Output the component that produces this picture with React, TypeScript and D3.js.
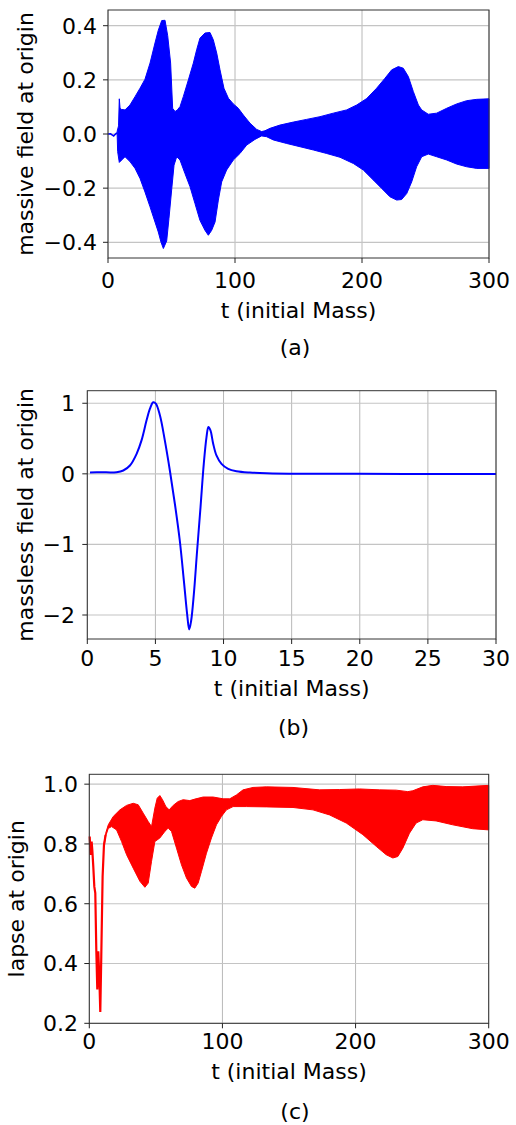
import { useEffect, useRef } from 'react';
import * as d3 from 'd3';

type Pt = [number, number];

// ---- panel (a): massive field at origin (envelope of the fast oscillation)
const massiveTicksX = [0, 100, 200, 300];
const massiveTicksY = [-0.4, -0.2, 0, 0.2, 0.4];
const massiveStart: Pt[] = [[0, 0], [2, 0.001], [3.5, -0.004], [4.5, -0.007], [5.5, -0.002], [6.5, 0.002], [7.2, 0.004]];
const massiveUpper: Pt[] = [
  [7.2, 0.01], [8.3, 0.03], [8.9, 0.13], [9.5, 0.095], [10.5, 0.091], [13.4, 0.089], [17.3, 0.107], [21.3, 0.138],
  [25.2, 0.169], [29.1, 0.202], [33.1, 0.262], [37, 0.336], [39.6, 0.383], [42.3, 0.419], [44.9, 0.42],
  [47, 0.363], [49.3, 0.262], [50.9, 0.095], [52.8, 0.083], [54.6, 0.089], [56.7, 0.101], [59.3, 0.138],
  [63.3, 0.2], [67.2, 0.262], [69.8, 0.311], [72.4, 0.354], [76.4, 0.373], [80.3, 0.375], [82.9, 0.348],
  [85.6, 0.299], [88.2, 0.237], [91.3, 0.169], [94.8, 0.132], [98.7, 0.111], [102.6, 0.095], [106.6, 0.07],
  [111.8, 0.04], [117.1, 0.017], [121, 0.009], [123.6, 0.012], [127.6, 0.021], [135.4, 0.033], [145.9, 0.044],
  [156.4, 0.054], [166.9, 0.064], [177.4, 0.077], [187.9, 0.089], [195.8, 0.107], [203.7, 0.131], [211.5, 0.169],
  [218.1, 0.206], [223.4, 0.237], [228.6, 0.249], [232.5, 0.243], [236.5, 0.212], [240.4, 0.157], [244.4, 0.107],
  [247, 0.089], [252.2, 0.073], [258.8, 0.077], [266.7, 0.095], [274.5, 0.111], [282.4, 0.123], [290.3, 0.128],
  [300, 0.13],
];
const massiveLower: Pt[] = [
  [7.2, 0], [7.6, -0.065], [8.9, -0.105], [10.8, -0.096], [13.4, -0.084], [17.3, -0.102], [21.3, -0.127],
  [25.2, -0.164], [29.1, -0.214], [33.1, -0.269], [37, -0.325], [39.6, -0.362], [41.7, -0.399], [43.6, -0.423],
  [46.2, -0.395], [48, -0.312], [50.1, -0.207], [52, -0.115], [54.1, -0.084], [56.7, -0.096], [60.6, -0.146],
  [64.6, -0.195], [68.5, -0.257], [72.4, -0.319], [76.4, -0.356], [79, -0.374], [81.6, -0.356], [84.3, -0.325],
  [86.9, -0.244], [89.5, -0.177], [93.4, -0.133], [98.7, -0.096], [103.9, -0.072], [109.2, -0.041],
  [115.7, -0.02], [121, -0.007], [124.9, -0.01], [130.2, -0.022], [140.7, -0.035], [151.2, -0.047],
  [161.7, -0.059], [172.2, -0.072], [182.7, -0.086], [193.2, -0.109], [201, -0.133], [208.9, -0.17],
  [215.5, -0.201], [222, -0.232], [227.3, -0.244], [231.2, -0.242], [235.2, -0.22], [239.1, -0.177],
  [243, -0.121], [247, -0.084], [252.2, -0.074], [258.8, -0.084], [266.7, -0.096], [274.5, -0.111],
  [282.4, -0.121], [290.3, -0.127], [300, -0.127],
];

// ---- panel (b): massless field at origin
const masslessTicksX = [0, 5, 10, 15, 20, 25, 30];
const masslessTicksY = [-2, -1, 0, 1];
const massless: Pt[] = [
  [0.2, 0.02], [1, 0.022], [2.15, 0.024], [2.64, 0.047], [3.13, 0.118], [3.62, 0.284], [3.98, 0.474],
  [4.35, 0.758], [4.6, 0.924], [4.84, 1.014], [5.03, 0.995], [5.33, 0.829], [5.69, 0.474], [6.06, 0.047],
  [6.43, -0.427], [6.79, -0.948], [7.09, -1.517], [7.33, -1.99], [7.48, -2.204], [7.62, -2.085],
  [7.82, -1.706], [8.06, -1.09], [8.31, -0.474], [8.55, 0.142], [8.75, 0.521], [8.89, 0.664], [9.04, 0.616],
  [9.24, 0.427], [9.48, 0.261], [9.85, 0.142], [10.34, 0.071], [10.95, 0.038], [11.93, 0.019], [13.15, 0.009],
  [15.6, 0.002], [20, 0], [25, -0.002], [30, -0.003],
];

// ---- panel (c): lapse at origin
const lapseTicksX = [0, 100, 200, 300];
const lapseTicksY = [0.2, 0.4, 0.6, 0.8, 1.0];
const lapseStart: Pt[] = [
  [0.3, 0.825], [1, 0.763], [1.75, 0.808], [2.25, 0.78], [3, 0.724], [3.75, 0.658], [4.5, 0.636],
  [5.25, 0.447], [6, 0.313], [6.75, 0.441], [7.5, 0.358], [8.25, 0.238], [9, 0.424], [10, 0.691],
  [11, 0.795], [12.25, 0.83],
];
const lapseUpper: Pt[] = [
  [11, 0.8], [12.25, 0.835], [14.25, 0.864], [18, 0.892], [23, 0.914], [28, 0.929], [33, 0.936],
  [36.75, 0.931], [40.5, 0.903], [44.25, 0.875], [46.75, 0.858], [49.25, 0.92], [51, 0.953], [53, 0.962],
  [55, 0.948], [57.5, 0.925], [60, 0.914], [63, 0.929], [66.75, 0.942], [70.5, 0.948], [75.5, 0.945],
  [79.25, 0.95], [85.5, 0.957], [93, 0.957], [100.5, 0.951], [105.5, 0.951], [110.5, 0.964], [115.5, 0.981],
  [123, 0.989], [133, 0.991], [153, 0.989], [173, 0.981], [188, 0.982], [203, 0.984], [218, 0.981],
  [230.5, 0.98], [239.25, 0.975], [243, 0.978], [250.5, 0.991], [258, 0.996], [268, 0.992], [280.5, 0.991],
  [300, 0.996],
];
const lapseLower: Pt[] = [
  [11, 0.79], [12.25, 0.825], [14.25, 0.852], [16.75, 0.858], [20.5, 0.847], [24.25, 0.808], [28, 0.764],
  [33, 0.719], [38, 0.675], [41.75, 0.655], [44.25, 0.669], [46.75, 0.742], [49.25, 0.808], [53, 0.82],
  [56.75, 0.842], [59.25, 0.853], [61.75, 0.842], [65.5, 0.786], [69.25, 0.73], [73, 0.686], [76.75, 0.658],
  [79.25, 0.652], [81.75, 0.669], [84.25, 0.708], [88, 0.769], [91.75, 0.82], [95.5, 0.864], [99.25, 0.892],
  [103, 0.914], [108, 0.925], [118, 0.925], [133, 0.924], [153, 0.922], [168, 0.914], [180.5, 0.897],
  [193, 0.87], [205.5, 0.831], [215.5, 0.792], [223, 0.764], [228, 0.753], [231.75, 0.758], [235.5, 0.786],
  [240.5, 0.836], [245.5, 0.87], [250.5, 0.881], [260.5, 0.877], [273, 0.864], [288, 0.851], [300, 0.847],
];

const FONT = "'DejaVu Sans', Verdana, sans-serif";
const FS = 22;
const minus = (s: string) => s.replace('-', '\u2212');

interface PanelCfg {
  left: number; right: number; top: number; bottom: number;
  xDomain: [number, number]; yDomain: [number, number];
  xTicks: number[]; yTicks: number[];
  yFmt: (v: number) => string;
  ylabel: string; ylabelX: number;
  yTickRight: number; xTickBase: number; xlabelBase: number;
  caption: string; captionX: number; captionBase: number;
}

function drawPanel(svg: d3.Selection<SVGSVGElement, unknown, null, undefined>, c: PanelCfg) {
  const x = d3.scaleLinear().domain(c.xDomain).range([c.left, c.right]);
  const y = d3.scaleLinear().domain(c.yDomain).range([c.bottom, c.top]);
  const g = svg.append('g');

  // grid
  c.xTicks.forEach(t => {
    g.append('line').attr('x1', x(t)).attr('x2', x(t)).attr('y1', c.top).attr('y2', c.bottom)
      .attr('stroke', '#b8b8b8').attr('stroke-width', 1);
  });
  c.yTicks.forEach(t => {
    g.append('line').attr('x1', c.left).attr('x2', c.right).attr('y1', y(t)).attr('y2', y(t))
      .attr('stroke', '#c4c4c4').attr('stroke-width', 1.2);
  });

  const data = g.append('g');

  // spines + ticks
  g.append('rect').attr('x', c.left).attr('y', c.top).attr('width', c.right - c.left).attr('height', c.bottom - c.top)
    .attr('fill', 'none').attr('stroke', '#333').attr('stroke-width', 1);
  c.xTicks.forEach(t => {
    g.append('line').attr('x1', x(t)).attr('x2', x(t)).attr('y1', c.bottom).attr('y2', c.bottom + 5)
      .attr('stroke', '#222').attr('stroke-width', 1);
    g.append('text').attr('x', x(t)).attr('y', c.xTickBase).attr('text-anchor', 'middle')
      .style('font-family', FONT).style('font-size', `${FS}px`).attr('fill', '#000').text(String(t));
  });
  c.yTicks.forEach(t => {
    g.append('line').attr('x1', c.left - 5).attr('x2', c.left).attr('y1', y(t)).attr('y2', y(t))
      .attr('stroke', '#222').attr('stroke-width', 1);
    g.append('text').attr('x', c.yTickRight).attr('y', y(t)).attr('dy', '0.36em').attr('text-anchor', 'end')
      .style('font-family', FONT).style('font-size', `${FS}px`).attr('fill', '#000').text(minus(c.yFmt(t)));
  });
  g.append('text').attr('x', (c.left + c.right) / 2).attr('y', c.xlabelBase).attr('text-anchor', 'middle')
    .style('font-family', FONT).style('font-size', `${FS}px`).attr('fill', '#000').text('t (initial Mass)');
  g.append('text').attr('transform', `translate(${c.ylabelX},${(c.top + c.bottom) / 2}) rotate(-90)`)
    .attr('text-anchor', 'middle')
    .style('font-family', FONT).style('font-size', `${FS}px`).attr('fill', '#000').text(c.ylabel);
  g.append('text').attr('x', c.captionX).attr('y', c.captionBase).attr('text-anchor', 'middle')
    .style('font-family', FONT).style('font-size', `${FS}px`).attr('fill', '#000').text(c.caption);

  return { x, y, data };
}

export default function App() {
  const svgRef = useRef<SVGSVGElement | null>(null);

  useEffect(() => {
    const svg = d3.select(svgRef.current!);
    svg.selectAll('*').remove();

    // (a)
    const a = drawPanel(svg, {
      left: 108, right: 489, top: 10, bottom: 258,
      xDomain: [0, 300], yDomain: [-0.458, 0.458],
      xTicks: massiveTicksX, yTicks: massiveTicksY, yFmt: d3.format('.1f'),
      ylabel: 'massive field at origin', ylabelX: 32.5,
      yTickRight: 97, xTickBase: 288, xlabelBase: 317.5,
      caption: '(a)', captionX: 295, captionBase: 355,
    });
    const lineA = d3.line<Pt>().x(d => a.x(d[0])).y(d => a.y(d[1]));
    a.data.append('path').attr('d', lineA(massiveStart)).attr('fill', 'none').attr('stroke', '#0000ff').attr('stroke-width', 1.6);
    a.data.append('path').attr('d', lineA([...massiveUpper, ...massiveLower.slice().reverse()]) + 'Z')
      .attr('fill', '#0000ff').attr('stroke', '#0000ff').attr('stroke-width', 1);

    // (b)
    const b = drawPanel(svg, {
      left: 87.3, right: 496, top: 390.7, bottom: 639,
      xDomain: [0, 30], yDomain: [-2.34, 1.178],
      xTicks: masslessTicksX, yTicks: masslessTicksY, yFmt: d3.format('d'),
      ylabel: 'massless field at origin', ylabelX: 32.5,
      yTickRight: 75, xTickBase: 666, xlabelBase: 695.5,
      caption: '(b)', captionX: 293.5, captionBase: 735,
    });
    const lineB = d3.line<Pt>().x(d => b.x(d[0])).y(d => b.y(d[1])).curve(d3.curveCatmullRom.alpha(0.5));
    b.data.append('path').attr('d', lineB(massless)).attr('fill', 'none').attr('stroke', '#0000ff').attr('stroke-width', 2);

    // (c)
    const c = drawPanel(svg, {
      left: 89.3, right: 488.7, top: 774.3, bottom: 1023.3,
      xDomain: [0, 300], yDomain: [0.2, 1.033],
      xTicks: lapseTicksX, yTicks: lapseTicksY, yFmt: d3.format('.1f'),
      ylabel: 'lapse at origin', ylabelX: 24,
      yTickRight: 78, xTickBase: 1049, xlabelBase: 1079,
      caption: '(c)', captionX: 295, captionBase: 1119,
    });
    const lineC = d3.line<Pt>().x(d => c.x(d[0])).y(d => c.y(d[1]));
    c.data.append('path').attr('d', lineC(lapseStart)).attr('fill', 'none').attr('stroke', '#ff0000').attr('stroke-width', 2.2);
    c.data.append('path').attr('d', lineC([...lapseUpper, ...lapseLower.slice().reverse()]) + 'Z')
      .attr('fill', '#ff0000').attr('stroke', '#ff0000').attr('stroke-width', 1);
  }, []);

  return (
    <svg ref={svgRef} width={516} height={1125}
      style={{ position: 'absolute', left: 0, top: 0, background: '#fff' }} />
  );
}
